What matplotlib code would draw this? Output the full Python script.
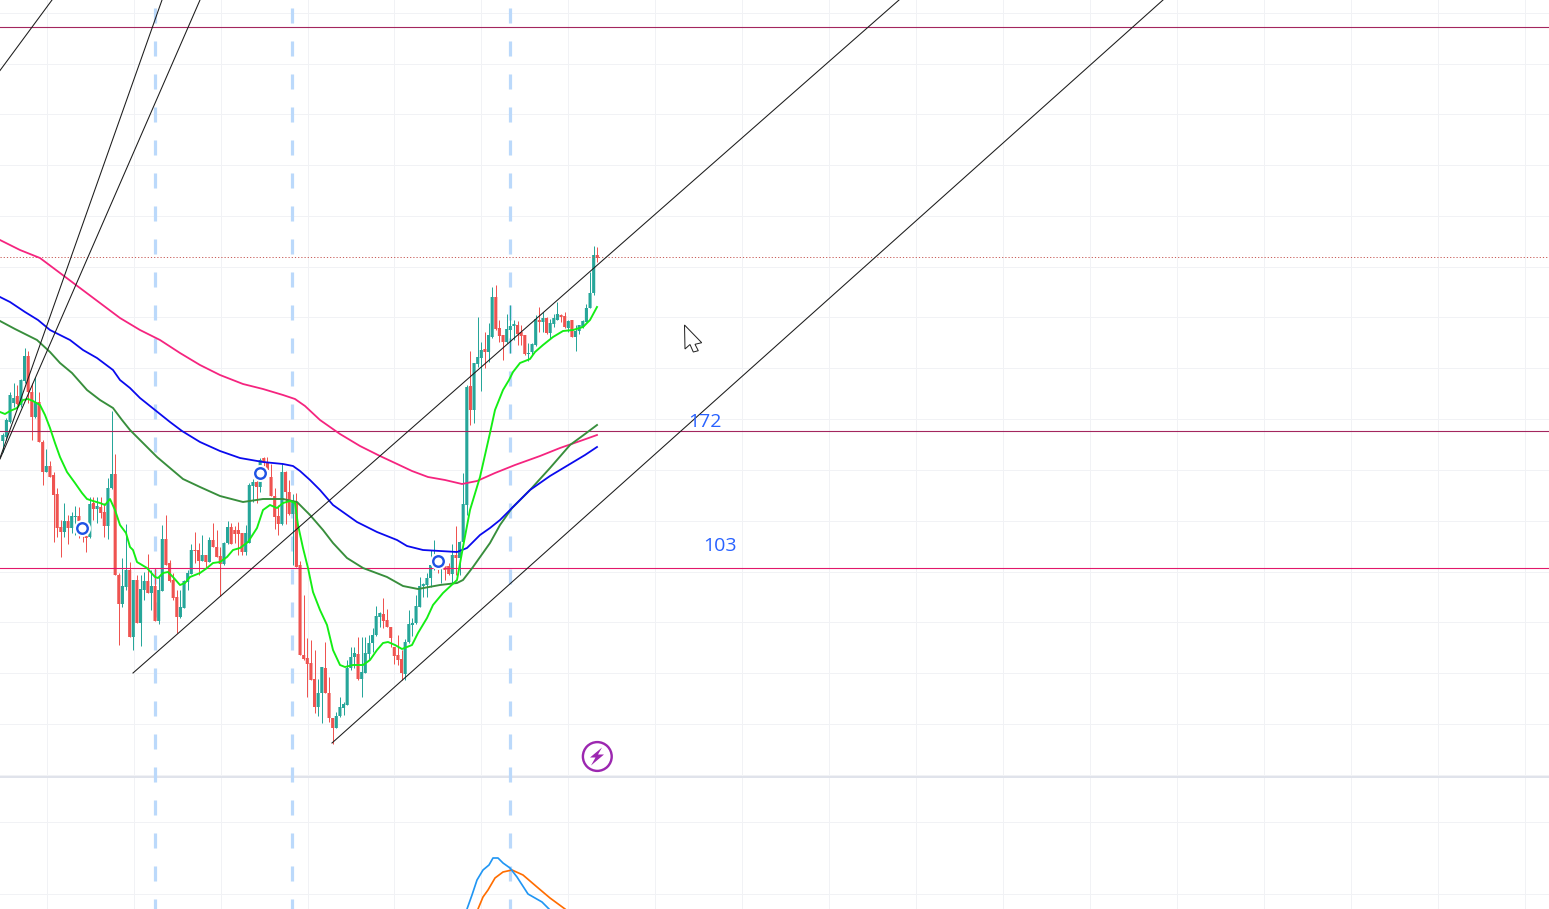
from matplotlib import pyplot as plt
from matplotlib.patches import Circle, Polygon
import numpy as np

W, H = 1549, 909
PX = 0.72  # one pixel in points at dpi 100

# candles, one every 3.625 px. u = up, d = down, ten to a chunk
candle_dir = "".join([
    "uuuuduuddu", "dduddddudu", "udddududdu", "udduududuu", "duduuddddu",
    "uuuddududd", "duudddduuu", "dudddddudd", "udddddduud", "dduuuuuudu",
    "uuuuuddddd", "duuuuuuuuu", "dudduduuud", "uuuduudddu", "uuddduuudu",
    "duuudduduu", "uuuud",
])
body_top = [435, 420, 395, 398, 396, 380, 356, 356, 392, 402, 402, 442, 466, 466, 475, 494, 527, 521, 521, 516,
            516, 516, 525, 536, 504, 503, 506, 507, 512, 488, 474, 474, 575, 586, 570, 570, 580, 580, 589, 581,
            581, 586, 586, 590, 539, 539, 563, 580, 597, 607, 581, 573, 550, 550, 550, 555, 555, 540, 540, 547,
            556, 543, 527, 527, 530, 530, 533, 533, 485, 482, 482, 460, 458, 462, 477, 496, 516, 472, 472, 492,
            502, 502, 565, 655, 658, 663, 679, 693, 667, 668, 693, 718, 716, 707, 704, 668, 657, 653, 654, 672,
            653, 643, 635, 616, 613, 614, 620, 627, 647, 655, 659, 642, 624, 623, 606, 586, 584, 578, 565, 556,
            560, 563, 566, 566, 555, 555, 542, 504, 387, 386, 363, 357, 350, 349, 335, 297, 297, 328, 335, 329,
            326, 324, 325, 332, 335, 353, 344, 319, 320, 318, 318, 323, 318, 314, 315, 316, 321, 320, 331, 325,
            321, 308, 293, 255, 255]
body_bot = [441, 437, 422, 403, 404, 405, 381, 392, 417, 417, 442, 472, 472, 477, 495, 528, 532, 532, 528, 528,
            517, 521, 530, 538, 537, 509, 509, 513, 526, 526, 488, 575, 604, 604, 587, 637, 637, 623, 623, 590,
            593, 593, 621, 621, 591, 565, 581, 598, 617, 617, 608, 582, 574, 551, 561, 561, 562, 562, 547, 557,
            564, 564, 543, 544, 534, 534, 552, 552, 543, 486, 487, 487, 462, 470, 496, 517, 524, 524, 492, 514,
            514, 567, 655, 659, 664, 680, 707, 707, 693, 693, 718, 728, 728, 716, 708, 705, 668, 657, 679, 679,
            673, 654, 643, 635, 617, 621, 627, 638, 656, 660, 673, 674, 642, 625, 623, 607, 586, 585, 578, 565,
            567, 566, 570, 574, 574, 558, 558, 542, 505, 410, 410, 364, 358, 352, 352, 337, 329, 336, 342, 342,
            330, 326, 334, 336, 354, 354, 352, 345, 322, 322, 333, 333, 324, 320, 317, 327, 328, 337, 337, 331,
            327, 322, 308, 293, 258]
wick_top = [433, 418, 392, 383, 385, 379, 348, 351, 383, 377, 392, 440, 449, 461, 472, 488, 520, 503, 515, 512,
            506, 507, 520, 535, 497, 497, 497, 497, 503, 478, 411, 454, 573, 558, 524, 562, 580, 575, 575, 572,
            554, 570, 568, 576, 525, 515, 560, 573, 590, 590, 580, 570, 544, 532, 543, 535, 555, 537, 523, 530,
            547, 542, 521, 523, 526, 522, 533, 525, 483, 479, 478, 458, 457, 457, 464, 488, 505, 463, 471, 480,
            494, 493, 561, 595, 638, 640, 650, 679, 667, 642, 677, 718, 712, 697, 702, 660, 647, 647, 637, 637,
            637, 635, 628, 606, 612, 598, 609, 627, 647, 635, 650, 639, 610, 618, 595, 577, 583, 573, 550, 540,
            556, 558, 566, 563, 544, 526, 541, 473, 385, 351, 363, 317, 342, 332, 323, 287, 285, 320, 335, 314,
            305, 320, 321, 325, 335, 343, 343, 315, 307, 312, 317, 319, 314, 302, 314, 312, 320, 320, 325, 325,
            320, 304, 272, 246, 247]
wick_bot = [452, 440, 423, 407, 405, 407, 383, 403, 440, 418, 442, 485, 472, 477, 542, 537, 557, 537, 544, 533,
            535, 538, 542, 552, 538, 520, 523, 518, 537, 539, 489, 575, 645, 607, 590, 637, 650, 623, 646, 600,
            593, 610, 621, 624, 591, 565, 582, 600, 633, 618, 608, 590, 574, 563, 575, 561, 568, 562, 547, 557,
            596, 565, 544, 544, 543, 555, 555, 555, 543, 502, 503, 492, 470, 473, 496, 529, 535, 525, 524, 515,
            565, 567, 655, 660, 697, 680, 713, 716, 723, 693, 722, 744, 728, 717, 715, 705, 670, 668, 680, 697,
            673, 660, 652, 636, 627, 628, 627, 647, 664, 665, 680, 680, 643, 636, 624, 607, 597, 597, 587, 570,
            573, 583, 580, 575, 583, 575, 575, 543, 515, 425, 423, 367, 391, 368, 362, 338, 330, 342, 360, 343,
            353, 340, 345, 345, 355, 361, 355, 346, 332, 332, 334, 338, 327, 320, 322, 328, 332, 337, 351, 334,
            328, 322, 308, 295, 262]

# moving averages
lime_x = [0, 5, 10, 17, 23, 28, 33, 40, 45, 50, 55, 60, 67, 75, 82, 87, 93, 100, 105, 110, 115, 120, 126, 130, 133,
          137, 147, 155, 158, 163, 168, 173, 180, 185, 190, 200, 207, 213, 220, 227, 233, 240, 248, 257, 263, 270,
          277, 283, 290, 295, 298, 303, 308, 313, 320, 327, 333, 340, 345, 353, 363, 370, 377, 383, 388, 395, 402,
          412, 418, 427, 433, 443, 457, 463, 470, 480, 490, 495, 503, 509, 513, 520, 530, 535, 543, 553, 563, 573,
          583, 590, 597]
lime_y = [412, 414, 411, 408, 400, 399, 401, 405, 415, 428, 443, 457, 472, 483, 493, 499, 501, 503, 505, 499, 510,
          525, 533, 547, 550, 562, 568, 577, 578, 573, 572, 577, 585, 583, 577, 573, 568, 563, 562, 557, 550, 548,
          542, 528, 510, 505, 508, 503, 501, 503, 525, 548, 568, 592, 610, 625, 650, 665, 667, 665, 665, 660, 650,
          643, 642, 645, 649, 645, 633, 618, 605, 593, 580, 547, 510, 477, 433, 410, 390, 380, 372, 363, 359, 352,
          345, 337, 331, 330, 327, 320, 307]
blue_x = [0, 10, 25, 38, 50, 70, 83, 97, 113, 120, 130, 140, 155, 170, 182, 200, 220, 240, 263, 283, 293, 300, 310,
          320, 333, 357, 377, 397, 407, 423, 457, 467, 480, 490, 500, 512, 530, 550, 570, 585, 597]
blue_y = [297, 302, 312, 320, 330, 340, 350, 358, 370, 380, 388, 398, 410, 422, 431, 442, 451, 458, 462, 464, 466,
          471, 480, 490, 505, 522, 532, 540, 546, 550, 552, 548, 535, 528, 520, 508, 490, 476, 464, 455, 447]
dkgreen_x = [0, 15, 37, 50, 60, 72, 87, 100, 113, 122, 130, 143, 157, 170, 183, 200, 220, 243, 263, 283, 297, 310,
             323, 333, 347, 363, 387, 403, 418, 440, 457, 463, 473, 490, 500, 512, 530, 550, 570, 585, 597]
dkgreen_y = [321, 329, 340, 352, 363, 373, 390, 400, 408, 420, 430, 443, 457, 468, 479, 487, 496, 502, 499, 499,
             502, 515, 530, 543, 558, 568, 577, 586, 589, 585, 583, 580, 567, 543, 525, 508, 490, 468, 445, 434, 425]
pink_x = [0, 20, 40, 60, 80, 100, 120, 140, 160, 180, 200, 220, 243, 263, 283, 295, 305, 320, 340, 360, 380, 395,
          412, 428, 445, 462, 477, 495, 515, 540, 560, 583, 597]
pink_y = [240, 250, 258, 273, 288, 303, 318, 330, 340, 353, 365, 375, 384, 389, 395, 399, 406, 420, 434, 446, 456,
          463, 471, 477, 480, 484, 481, 473, 465, 456, 448, 440, 435]

# lower pane, cut off by the bottom of the window
macd_x = [467, 472, 477, 483, 489, 493, 498, 503, 510, 517, 528, 542, 549]
macd_y = [909, 895, 880, 870, 865, 858, 858, 863, 868, 877, 894, 902, 909]
signal_x = [478, 483, 488, 495, 503, 512, 523, 537, 550, 565]
signal_y = [909, 897, 890, 878, 872, 870, 875, 887, 898, 909]

# drawings
trend_lines = [((133, 673), (899, 0)), ((332, 743), (1163, 0)), ((0, 70.5), (52, 0)),
               ((0, 458), (162, 0)), ((0, 459), (200, 0))]
level_y = [27, 431, 568]
level_color = ["#a3265e", "#a3265e", "#e2186a"]
signal_bar_x = [155, 292.5, 510.3]
entry_x = [82.5, 260.5, 438]
entry_y = [528, 473, 560.5]
level_labels = ["172", "103"]
label_x = [704.5, 719.5]
label_y = [422, 546]

plt.rcParams["lines.scale_dashes"] = False
fig = plt.figure(figsize=(W / 100, H / 100), dpi=100, facecolor="white")
ax = fig.add_axes([0, 0, 1, 1])
ax.set_xlim(0, W)
ax.set_ylim(H, 0)
ax.axis("off")

# grid
for x in np.arange(46.7, W, 86.95):
    ax.axvline(x, color="#f1f2f5", lw=1 * PX, zorder=1)
for y in np.arange(12.7, 776, 50.8):
    ax.axhline(y, color="#f1f2f5", lw=1 * PX, zorder=1)
for y in [822.3, 894.3]:
    ax.axhline(y, color="#f1f2f5", lw=1 * PX, zorder=1)
ax.axhline(777, color="#e0e3eb", lw=2 * PX, zorder=1.5)

for x in signal_bar_x:
    ax.plot([x, x], [8, H], color="#bbd9fb", lw=3.2 * PX, ls=(0, (15 * PX, 18 * PX)), zorder=2)

# candles
candle_x = 2.8 + 3.625 * np.arange(len(body_top))
colors = ["#26a69a" if d == "u" else "#ef5350" for d in candle_dir]
top = np.array(body_top)
bot = np.array(body_bot)
ax.vlines(candle_x, wick_top, wick_bot, colors=colors, lw=1 * PX, zorder=3)
bars = ax.bar(candle_x, np.maximum(bot - top, 1), bottom=top, width=3.1, color=colors, lw=0, zorder=3.1)
for b in bars:
    b.set_snap(False)

ax.axhline(257, color="#c9605c", lw=1 * PX, ls=(0, (1.2 * PX, 2 * PX)), zorder=3.5)
for y, c in zip(level_y, level_color):
    ax.axhline(y, color=c, lw=1.1 * PX, zorder=3.6)

ax.plot(pink_x, pink_y, color="#f5247f", lw=1.8 * PX, zorder=4)
ax.plot(dkgreen_x, dkgreen_y, color="#388e3c", lw=1.9 * PX, zorder=4)
ax.plot(blue_x, blue_y, color="#0a0aee", lw=1.8 * PX, zorder=4.1)
ax.plot(lime_x, lime_y, color="#14ee14", lw=1.9 * PX, zorder=4.2)
ax.plot(signal_x, signal_y, color="#ff6d00", lw=1.7 * PX, zorder=4)
ax.plot(macd_x, macd_y, color="#2196f3", lw=1.7 * PX, zorder=4.1)

for p, q in trend_lines:
    ax.plot([p[0], q[0]], [p[1], q[1]], color="#1c1c1c", lw=1.05 * PX, zorder=5)

# entry markers with their white halo
ax.scatter(entry_x, entry_y, s=(17 * PX) ** 2, color="white", lw=0, zorder=6)
ax.scatter(entry_x, entry_y, s=(10.5 * PX) ** 2, facecolor="white", edgecolor="#1e53e5", lw=2.4 * PX, zorder=6.1)

for txt, x, y in zip(level_labels, label_x, label_y):
    ax.text(x, y, txt, color="#2962ff", fontsize=14, family="Open Sans", ha="center", va="center", zorder=7)

# lightning badge
ax.add_patch(Circle((597.3, 756.5), 14.4, fc="white", ec="#9c27b0", lw=2.4 * PX, zorder=7))
bolt = [(602, 747.5), (590, 757.5), (595.5, 757.5), (591, 765.5), (604, 754.5), (598, 754.5)]
ax.add_patch(Polygon(bolt, closed=True, fc="#9c27b0", lw=0, zorder=7.1))

# mouse pointer
pointer = [(684.5, 325), (701.7, 342.7), (695, 344.3), (698.3, 350.7), (693.3, 352), (690, 344.5), (685, 349)]
ax.add_patch(Polygon(pointer, closed=True, fc="white", ec="#222222", lw=1 * PX, zorder=8))

fig.savefig("out.png", dpi=100, facecolor="white")
